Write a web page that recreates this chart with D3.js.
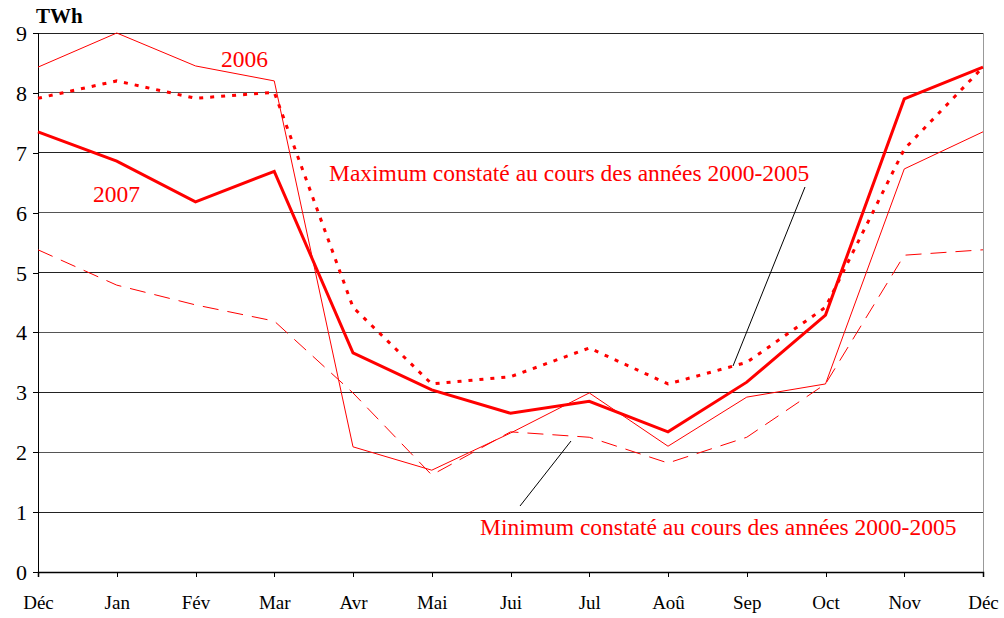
<!DOCTYPE html>
<html>
<head>
<meta charset="utf-8">
<script src="https://cdn.jsdelivr.net/npm/d3@7"></script>
<style>
  body { margin: 0; background: #fff; }
</style>
</head>
<body>
<div id="chart"></div>
<script>
// months (Dec of previous year through Dec)
const months = ["Déc", "Jan", "Fév", "Mar", "Avr", "Mai", "Jui", "Jul", "Aoû", "Sep", "Oct", "Nov", "Déc"];
const yTicks = [0, 1, 2, 3, 4, 5, 6, 7, 8, 9];

// TWh values
const y2007 = [7.35, 6.86, 6.18, 6.69, 3.66, 3.04, 2.65, 2.85, 2.34, 3.17, 4.29, 7.90, 8.43];
const y2006 = [8.43, 9.00, 8.45, 8.20, 2.09, 1.70, 2.32, 2.99, 2.10, 2.92, 3.14, 6.73, 7.35];
const maxi = [7.91, 8.20, 7.91, 8.01, 4.42, 3.14, 3.26, 3.74, 3.14, 3.50, 4.42, 7.06, 8.43];
const mini = [5.38, 4.79, 4.46, 4.19, 2.99, 1.62, 2.34, 2.25, 1.82, 2.25, 3.14, 5.29, 5.38];

const W = 1004, H = 618;
const m = { top: 33, right: 21, bottom: 46, left: 38 };
const red = "#ff0000";
const serif = "'Liberation Serif', 'Times New Roman', Times, serif";

const svg = d3.select("#chart").append("svg")
  .attr("width", W).attr("height", H)
  .attr("font-family", serif);

const x = d3.scaleLinear().domain([0, months.length - 1]).range([m.left, W - m.right]);
const y = d3.scaleLinear().domain([0, 9]).range([H - m.bottom, m.top]);

// horizontal grid
svg.append("g")
  .selectAll("line")
  .data(yTicks.filter(d => d > 0))
  .join("line")
  .attr("x1", m.left).attr("x2", W - m.right)
  .attr("y1", d => y(d)).attr("y2", d => y(d))
  .attr("stroke", (d, i) => i % 2 ? "#555" : "#222")
  .attr("stroke-width", 1)
  .attr("shape-rendering", "crispEdges");

// right border
svg.append("line")
  .attr("x1", W - m.right).attr("x2", W - m.right)
  .attr("y1", m.top).attr("y2", H - m.bottom)
  .attr("stroke", "#999").attr("shape-rendering", "crispEdges");

// y axis
const yAxis = svg.append("g")
  .attr("transform", `translate(${m.left},0)`)
  .call(d3.axisLeft(y).tickValues(yTicks).tickSize(5).tickFormat(d3.format("d")));
yAxis.attr("font-family", serif).attr("font-size", 22);
yAxis.selectAll("text").attr("fill", "#000").attr("dx", -3).attr("dy", "0.34em");
yAxis.selectAll("line, path").attr("stroke", "#000").attr("shape-rendering", "crispEdges");

// x axis
const xAxis = svg.append("g")
  .attr("transform", `translate(0,${H - m.bottom})`)
  .call(d3.axisBottom(x).tickValues(d3.range(months.length)).tickSize(5)
    .tickFormat(i => months[i]));
xAxis.attr("font-family", serif).attr("font-size", 19);
xAxis.select(".domain").attr("stroke", "#000").attr("stroke-width", 1.5);
xAxis.selectAll("line").attr("stroke", "#000").attr("shape-rendering", "crispEdges");
xAxis.selectAll("text").attr("fill", "#000").attr("y", 0).attr("dy", 37);

svg.append("text")
  .attr("x", 36).attr("y", 23)
  .attr("font-weight", "bold").attr("font-size", 21)
  .text("TWh");

const line = d3.line().x((d, i) => x(i)).y(d => y(d));

const series = [
  { data: mini, width: 1, dash: "16,9" },
  { data: y2006, width: 1, dash: null },
  { data: maxi, width: 3, dash: "4,7" },
  { data: y2007, width: 3, dash: null }
];

svg.append("g")
  .selectAll("path")
  .data(series)
  .join("path")
  .attr("fill", "none")
  .attr("stroke", red)
  .attr("stroke-width", d => d.width)
  .attr("stroke-dasharray", d => d.dash)
  .attr("stroke-linejoin", "miter")
  .attr("d", d => line(d.data));

// leader lines
svg.append("line")
  .attr("x1", 805).attr("y1", 187).attr("x2", 733).attr("y2", 366)
  .attr("stroke", "#000").attr("stroke-width", 1);
svg.append("line")
  .attr("x1", 571).attr("y1", 441).attr("x2", 520).attr("y2", 506)
  .attr("stroke", "#000").attr("stroke-width", 1);

// annotations
const notes = [
  { t: "2006", x: 221, y: 67 },
  { t: "2007", x: 93, y: 202 },
  { t: "Maximum constaté au cours des années 2000-2005", x: 329, y: 181 },
  { t: "Minimum constaté au cours des années 2000-2005", x: 480, y: 535 }
];
svg.append("g")
  .selectAll("text")
  .data(notes)
  .join("text")
  .attr("x", d => d.x).attr("y", d => d.y)
  .attr("fill", red)
  .attr("font-size", 23.5)
  .text(d => d.t);
</script>
</body>
</html>
